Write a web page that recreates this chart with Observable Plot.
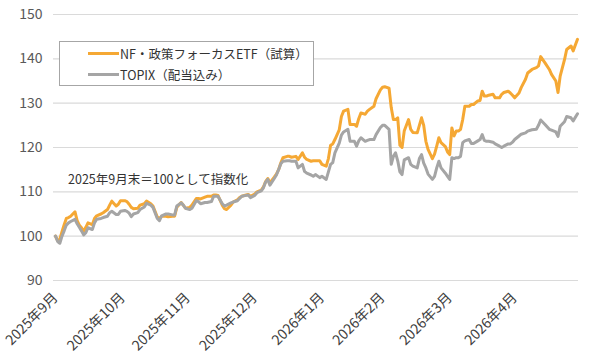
<!DOCTYPE html>
<html><head><meta charset="utf-8">
<script src="https://cdn.jsdelivr.net/npm/d3@7"></script>
<script src="https://cdn.jsdelivr.net/npm/@observablehq/plot@0.6"></script>
<style>
body{margin:0;background:#fff;font-family:"Noto Sans CJK JP","Noto Sans",sans-serif;}
#wrap{position:relative;width:600px;height:359px;}
#legend{position:absolute;left:59px;top:41px;width:253px;height:43px;border:1px solid #a6a6a6;background:#fff;}
.item{position:absolute;left:28px;height:16px;display:flex;align-items:center;font-size:12.5px;color:#333;white-space:nowrap;}
.sw{display:inline-block;width:31px;height:3px;margin-right:1px;}
#note{position:absolute;left:68px;top:169px;font-size:12.5px;color:#333;white-space:nowrap;}
</style></head>
<body><div id="wrap"></div>
<script>
const seriesNames = ["NF・政策フォーカスETF（試算）", "TOPIX（配当込み）"];
const seriesColors = ["#f5a834", "#a5a5a5"];
// trading days since 2025-09-30
const days = [0,1,2,3,4,5,6,7,9,10, 11,12,13,14,15,17,18,19,21,22, 24,25,26,28,29,30,32,33,34,35, 36,38,39,41,42,44,45,47,48,49, 51,52,54,55,56,58,59,60,62,63, 65,66,67,69,70,72,73,74,75,77, 78,79,81,82,84,85,86,88,89,90, 92,93,95,96,97,98,99,101,102,103, 104,105,107,108,109,111,112,114,115,116, 118,119,120,122,123,125,126,127,128,129, 131,132,133,135,136,138,139,140,141,143, 144,145,147,148,150,151,152,154,155,156, 157,158,159,160,161,163,164,165,167,168, 169,170,171,172,174,175,176,177,178,180, 181,182,183,184,185,186,187,188,189,191, 192,193,195,196,197,198,199,200,202,203, 205,206,207,209,210,211,212,214,215,217, 218,220,222,223,224,226,228,229,231,232, 233,235,236,238,239,241];
const nf = [100,99.0,99.3,101.0,102.6,104.0,104.2,104.5,105.5,103.5,
102.5,101.9,101.1,102.0,103.0,102.6,104.0,104.6,105.0,105.3,
106.0,107.0,107.9,106.8,107.2,108.0,108.0,107.8,107.2,106.5,
106.2,106.3,107.0,107.3,107.9,107.3,106.8,104.3,104.0,104.5,
104.5,104.4,104.5,104.5,106.5,107.6,107.0,106.3,106.5,107.0,
108.5,108.5,108.4,108.8,109.0,109.0,109.3,109.3,109.2,107.0,
106.2,106.0,107.0,107.7,108.2,108.7,109.0,109.3,109.4,109.0,
109.5,110.0,110.4,111.1,112.3,113.0,112.0,113.3,114.0,115.0,
116.5,117.7,118.0,118.0,117.8,118.0,117.3,118.8,117.8,117.3,
116.9,117.0,117.0,117.0,116.2,115.8,117.5,120.5,120.8,121.8,
124.0,127.0,128.2,128.6,125.2,125.2,124.8,126.5,127.8,127.5,
128.2,128.6,129.3,131.0,133.0,133.6,133.7,133.4,129.0,126.3,
126.3,126.7,120.5,120.0,123.7,126.3,124.1,123.4,123.3,125.0,
126.7,125.0,121.4,119.6,117.5,118.5,120.3,122.2,121.1,120.2,
119.0,118.4,124.4,122.6,123.7,123.7,124.1,126.3,129.3,129.3,
129.7,129.7,130.5,130.6,132.7,131.6,131.6,131.8,132.0,131.2,
131.2,132.0,132.4,132.7,132.3,131.8,131.2,132.3,133.5,135.4,
136.8,137.6,138.0,138.4,140.5,139.1,137.6,136.5,135.0,132.4,
136.1,139.8,142.1,142.9,141.8,144.4];
const topix = [100,98.8,98.4,100.0,101.2,102.5,103.0,103.3,103.8,102.8,
102.0,101.2,100.3,100.8,101.9,101.5,103.0,103.8,104.0,104.2,
104.5,105.3,105.6,104.9,104.9,105.6,105.8,105.6,105.2,104.4,
105.0,105.3,106.0,106.6,107.4,107.0,106.5,104.0,103.5,104.6,
105.0,105.0,104.8,104.8,106.8,107.5,107.0,106.3,106.0,106.3,
108.0,107.8,107.3,107.6,107.6,107.8,109.0,109.0,109.0,107.3,
106.8,107.0,107.5,107.7,108.0,108.5,109.0,109.2,109.3,108.7,
109.2,109.8,110.2,110.9,112.2,112.8,111.5,113.0,113.8,115.0,
116.3,116.9,117.0,117.0,116.9,116.9,115.4,116.2,114.6,114.2,
113.8,113.5,113.9,113.2,113.5,112.8,114.5,116.2,116.6,118.8,
121.0,122.8,123.5,124.1,121.4,121.4,120.3,121.5,122.2,121.4,
121.6,121.8,121.8,122.9,124.5,125.0,125.0,124.1,116.2,118.0,
118.8,117.0,114.5,113.9,117.2,117.7,116.2,115.8,115.4,117.5,
118.4,116.5,115.4,114.0,112.8,113.5,115.4,116.9,115.4,114.2,
113.5,112.8,117.7,117.5,117.7,117.7,118.0,121.1,121.5,121.8,
120.9,120.9,121.5,121.8,122.9,121.6,121.4,121.4,121.2,120.8,
120.3,120.0,120.3,120.8,120.8,121.2,121.8,122.6,123.0,123.3,
123.7,124.0,124.1,125.0,126.2,125.2,124.1,123.9,123.5,122.5,
124.8,125.8,127.0,126.7,126.0,127.6];
const tickDays = [0,31,61,92,123,151,182,212];
const tickLabels = ["2025年9月","2025年10月","2025年11月","2025年12月","2026年1月","2026年2月","2026年3月","2026年4月"];
const yTicks = [90,100,110,120,130,140,150];
const noteText = "2025年9月末＝100として指数化";

const rows = [];
days.forEach((d,i)=>{ rows.push({d, v: nf[i], s: seriesNames[0]}); });
days.forEach((d,i)=>{ rows.push({d, v: topix[i], s: seriesNames[1]}); });

const chart = Plot.plot({
  width: 600, height: 359,
  marginLeft: 55, marginRight: 23, marginTop: 14, marginBottom: 79,
  style: {fontFamily: '"Noto Sans CJK JP","Noto Sans",sans-serif', background: "#fff"},
  x: {domain: [0, 241]},
  y: {domain: [90, 150]},
  color: {domain: seriesNames, range: seriesColors},
  marks: [
    Plot.ruleY(yTicks, {stroke: "#dadada", strokeWidth: 1.2, insetLeft: -2, insetRight: -1}),
    Plot.axisY(yTicks, {tickSize: 0, tickPadding: 13, fontSize: 14, fill: "#595959", label: null}),
    Plot.axisX(tickDays, {tickSize: 0, tickPadding: 15, tickRotate: -45, fontSize: 14, fill: "#404040", label: null,
      tickFormat: (d) => tickLabels[tickDays.indexOf(d)]}),
    Plot.line(rows, {x: "d", y: "v", z: "s", stroke: "s", strokeWidth: 3, strokeLinejoin: "round", strokeLinecap: "round", curve: "linear"})
  ]
});
const wrap = document.getElementById("wrap");
wrap.appendChild(chart);
const leg = document.createElement("div");
leg.id = "legend";
seriesNames.forEach((n,i)=>{
  const it = document.createElement("div");
  it.className = "item";
  it.style.top = (i === 0 ? 3 : 24) + "px";
  const sw = document.createElement("span");
  sw.className = "sw"; sw.style.background = seriesColors[i];
  it.appendChild(sw);
  it.appendChild(document.createTextNode(n));
  leg.appendChild(it);
});
wrap.appendChild(leg);
const note = document.createElement("div");
note.id = "note"; note.textContent = noteText;
wrap.appendChild(note);
</script></body></html>
